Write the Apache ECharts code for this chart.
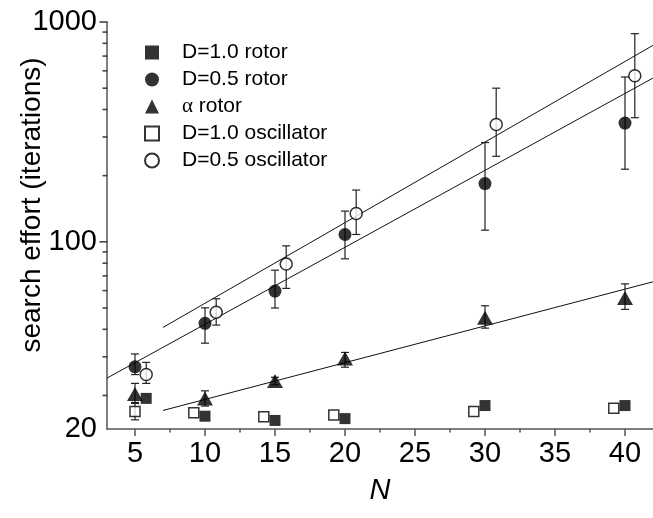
<!DOCTYPE html>
<html>
<head>
<meta charset="utf-8">
<script src="https://cdn.jsdelivr.net/npm/echarts@6/dist/echarts.min.js"></script>
<style>
  html, body { margin: 0; padding: 0; background: #fff; }
  #chart { width: 653px; height: 518px; }
</style>
</head>
<body>
<div id="chart"></div>
<script>
// axis ranges and ticks
const xMin = 3;
const xMax = 42;
const yMin = 14.08;
const yMax = 1000;
const xTickValues = [5, 10, 15, 20, 25, 30, 35, 40];
const xMinorTicks = [7.5, 12.5, 17.5, 22.5, 27.5, 32.5, 37.5];
const yTickValues = [14.08, 100, 1000];
const yTickLabels = ['20', '100', '1000'];
const yMajorTicks = [100, 1000];
const yMinorTicks = [20, 30, 40, 50, 60, 70, 80, 90, 200, 300, 400, 500, 600, 700, 800, 900];

// D=1.0 rotor (filled squares)
const d10RotorN = [5.8, 10, 15, 20, 30, 40];
const d10RotorY = [19.4, 16.1, 15.4, 15.7, 18.0, 18.0];

// D=0.5 rotor (filled circles)
const d05RotorN = [5, 10, 15, 20, 30, 40];
const d05RotorY = [27.0, 42.6, 59.7, 108, 184, 347];
const d05RotorLo = [24.9, 34.6, 50.0, 83.7, 113, 214];
const d05RotorHi = [30.9, 50.1, 74.3, 138, 283, 562];

// alpha rotor (triangles)
const alphaN = [5, 10, 15, 20, 30, 40];
const alphaY = [20.3, 19.4, 23.3, 29.5, 45.2, 55.6];
const alphaLo = [18.6, 17.9, 22.4, 26.9, 40.5, 49.3];
const alphaHi = [22.7, 21.0, 24.2, 31.4, 51.2, 64.4];

// D=1.0 oscillator (open squares)
const d10OscN = [5, 9.2, 14.2, 19.2, 29.2, 39.2];
const d10OscY = [16.9, 16.7, 16.0, 16.3, 16.9, 17.5];
const d10OscLo = [15.5, null, null, null, null, null];
const d10OscHi = [18.4, null, null, null, null, null];

// D=0.5 oscillator (open circles)
const d05OscN = [5.8, 10.8, 15.8, 20.8, 30.8, 40.7];
const d05OscY = [24.9, 47.8, 79.2, 134.6, 342, 570];
const d05OscLo = [22.7, 41.8, 61.4, 108, 245, 367];
const d05OscHi = [28.3, 55.1, 95.9, 172, 500, 885];

// fitted lines (end points)
const fitOscN = [7, 42];
const fitOscY = [40.8, 783];
const fitRotN = [3, 42];
const fitRotY = [24.0, 556];
const fitAlphaN = [7, 42];
const fitAlphaY = [17.1, 65.8];

const FONT = 'Liberation Sans, Arial, sans-serif';
const AXIS_COLOR = '#555';

function pairs(xs, ys) {
    return xs.map((x, i) => [x, ys[i]]);
}

function errData(xs, lo, hi) {
    const out = [];
    xs.forEach((x, i) => {
        if (lo[i] != null && hi[i] != null) out.push([x, lo[i], hi[i]]);
    });
    return out;
}

function errorSeries(data) {
    return {
        type: 'custom',
        data: data,
        z: 3,
        silent: true,
        renderItem: function (params, api) {
            const x = api.value(0);
            const lo = api.coord([x, api.value(1)]);
            const hi = api.coord([x, api.value(2)]);
            const w = 4;
            const style = { stroke: '#222', lineWidth: 1.2 };
            return {
                type: 'group',
                children: [
                    { type: 'line', shape: { x1: lo[0], y1: lo[1], x2: hi[0], y2: hi[1] }, style: style },
                    { type: 'line', shape: { x1: lo[0] - w, y1: lo[1], x2: lo[0] + w, y2: lo[1] }, style: style },
                    { type: 'line', shape: { x1: hi[0] - w, y1: hi[1], x2: hi[0] + w, y2: hi[1] }, style: style },
                ],
            };
        },
    };
}

function fitSeries(xs, ys) {
    return {
        type: 'line',
        data: pairs(xs, ys),
        showSymbol: false,
        symbol: 'none',
        silent: true,
        z: 2,
        lineStyle: { color: '#111', width: 1 },
    };
}

const chart = echarts.init(document.getElementById('chart'), null, { renderer: 'canvas' });

const option = {
    backgroundColor: '#fff',
    animation: false,
    grid: { left: 107, right: 0, top: 22, bottom: 89 },
    legend: {
        data: ['D=1.0 rotor', 'D=0.5 rotor', 'α rotor', 'D=1.0 oscillator', 'D=0.5 oscillator'],
        orient: 'vertical',
        left: 139,
        top: 37,
        itemWidth: 14,
        itemHeight: 14,
        itemGap: 6,
        selectedMode: false,
        textStyle: {
            fontFamily: FONT,
            fontSize: 21,
            color: '#000',
            rich: {
                p: { width: 18 },
                g: { fontFamily: 'Liberation Serif, serif', fontSize: 21, color: '#000' },
            },
        },
        formatter: function (name) {
            return '{p|}' + name.replace('α', '{g|α}');
        },
    },
    xAxis: [{
        type: 'value',
        min: xMin,
        max: xMax,
        name: 'N',
        nameLocation: 'middle',
        nameGap: 47,
        nameTextStyle: { fontFamily: FONT, fontSize: 29, fontStyle: 'italic', color: '#000' },
        axisLine: { lineStyle: { color: AXIS_COLOR, width: 1.5 } },
        axisTick: { show: true, length: 7, customValues: xTickValues, lineStyle: { color: AXIS_COLOR, width: 1.5 } },
        axisLabel: { customValues: xTickValues, fontFamily: FONT, fontSize: 29, color: '#000', margin: 10 },
        splitLine: { show: false },
    }, {
        type: 'value',
        min: xMin,
        max: xMax,
        position: 'bottom',
        axisLine: { show: false },
        axisTick: { show: true, length: 3.5, customValues: xMinorTicks, lineStyle: { color: AXIS_COLOR, width: 1.5 } },
        axisLabel: { show: false },
        splitLine: { show: false },
    }],
    yAxis: {
        type: 'log',
        logBase: 10,
        min: yMin,
        max: yMax,
        axisLine: { show: true, lineStyle: { color: AXIS_COLOR, width: 1.5 } },
        axisTick: { show: false },
        axisLabel: {
            customValues: yTickValues,
            fontFamily: FONT,
            fontSize: 29,
            color: '#000',
            margin: 10,
            formatter: function (v) {
                let best = 0;
                yTickValues.forEach((t, i) => {
                    if (Math.abs(Math.log10(t) - Math.log10(v)) < Math.abs(Math.log10(yTickValues[best]) - Math.log10(v))) best = i;
                });
                return yTickLabels[best];
            },
        },
        splitLine: { show: false },
    },
    series: [
        fitSeries(fitOscN, fitOscY),
        fitSeries(fitRotN, fitRotY),
        fitSeries(fitAlphaN, fitAlphaY),
        errorSeries(errData(d05RotorN, d05RotorLo, d05RotorHi)),
        errorSeries(errData(d05OscN, d05OscLo, d05OscHi)),
        errorSeries(errData(alphaN, alphaLo, alphaHi)),
        errorSeries(errData(d10OscN, d10OscLo, d10OscHi)),
        {
            name: 'D=1.0 rotor', type: 'scatter', z: 5,
            data: pairs(d10RotorN, d10RotorY),
            symbol: 'rect', symbolSize: 11,
            itemStyle: { color: '#000' },
        },
        {
            name: 'D=0.5 rotor', type: 'scatter', z: 5,
            data: pairs(d05RotorN, d05RotorY),
            symbol: 'circle', symbolSize: 13,
            itemStyle: { color: '#000' },
        },
        {
            name: 'α rotor', type: 'scatter', z: 5,
            data: pairs(alphaN, alphaY),
            symbol: 'triangle', symbolSize: [16, 14],
            itemStyle: { color: '#000' },
        },
        {
            name: 'D=1.0 oscillator', type: 'scatter', z: 5,
            data: pairs(d10OscN, d10OscY),
            symbol: 'rect', symbolSize: 10,
            itemStyle: { color: '#fff', borderColor: '#000', borderWidth: 1.5 },
        },
        {
            name: 'D=0.5 oscillator', type: 'scatter', z: 5,
            data: pairs(d05OscN, d05OscY),
            symbol: 'circle', symbolSize: 12,
            itemStyle: { color: '#fff', borderColor: '#000', borderWidth: 1.5 },
        },
    ],
};

chart.setOption(option);

// y ticks of the log axis; pixel positions come from the chart's own scale
const tickGraphics = [];
function addYTicks(values, len) {
    values.forEach(v => {
        const p = chart.convertToPixel({ xAxisIndex: 0, yAxisIndex: 0 }, [xMin, v]);
        tickGraphics.push({
            type: 'line',
            silent: true,
            z: 100,
            zlevel: 1,
            shape: { x1: p[0] - len, y1: p[1], x2: p[0] + 0.5, y2: p[1] },
            style: { stroke: '#444', lineWidth: 1.6 },
        });
    });
}
addYTicks(yMajorTicks, 7.5);
addYTicks(yMinorTicks, 4.5);

chart.setOption({
    graphic: [{
        type: 'text',
        x: 32,
        y: 205,
        rotation: Math.PI / 2,
        style: {
            text: 'search effort (iterations)',
            font: '28px ' + FONT,
            fill: '#000',
            align: 'center',
            verticalAlign: 'middle',
        },
    }].concat(tickGraphics),
});
</script>
</body>
</html>
